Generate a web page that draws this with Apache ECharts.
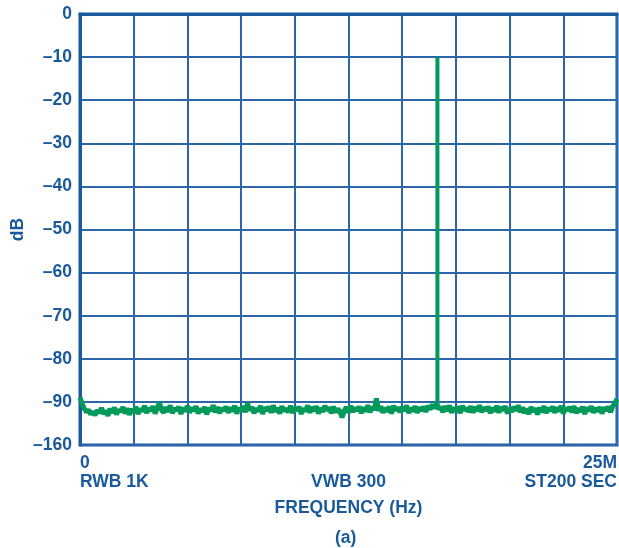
<!DOCTYPE html>
<html>
<head>
<meta charset="utf-8">
<script src="https://cdn.jsdelivr.net/npm/echarts@6/dist/echarts.min.js"></script>
<style>html,body{margin:0;padding:0;background:#fff;}#c{width:619px;height:548px;}</style>
</head>
<body>
<div id="c"></div>
<script>
// Frequency axis in MHz (0 .. 25M), noise sampled every 0.1 MHz
const freqStepMHz = 0.1;
const noiseDb = [
-89.0,-90.4,-91.6,-92.4,-91.8,-92.9,-92.2,-93.1,-91.9,-92.6,
-91.4,-92.8,-92.0,-93.2,-91.6,-92.5,-91.3,-92.9,-91.8,-92.3,
-91.2,-92.7,-91.5,-93.0,-91.7,-92.4,-91.1,-92.8,-91.6,-92.2,
-90.9,-92.6,-91.4,-92.1,-91.0,-92.7,-91.3,-90.2,-91.9,-92.5,
-91.2,-92.3,-90.8,-92.6,-91.5,-92.0,-91.1,-92.8,-91.4,-92.2,
-90.9,-92.5,-91.3,-92.1,-91.0,-92.7,-91.6,-92.3,-91.2,-92.9,
-91.4,-92.1,-90.8,-92.4,-91.2,-92.6,-91.5,-92.0,-91.1,-92.5,
-91.3,-92.2,-90.9,-92.7,-91.4,-92.1,-91.0,-92.4,-90.3,-92.0,
-91.2,-92.6,-91.5,-92.2,-90.9,-92.8,-91.3,-92.0,-91.1,-92.5,
-90.8,-92.3,-91.4,-92.7,-91.0,-92.1,-91.6,-92.4,-90.9,-92.6,
-91.3,-92.0,-91.1,-92.8,-91.5,-92.2,-90.8,-92.5,-91.2,-92.1,
-91.0,-92.7,-91.4,-92.3,-90.9,-92.0,-91.3,-92.6,-91.1,-92.4,
-91.6,-92.2,-93.6,-92.1,-91.2,-92.5,-90.9,-92.3,-91.4,-92.0,
-91.1,-92.6,-91.3,-92.2,-90.8,-92.4,-91.2,-91.9,-89.2,-92.1,
-91.0,-92.5,-91.4,-92.2,-91.1,-92.7,-90.9,-92.0,-91.3,-92.4,
-91.2,-92.1,-90.8,-92.6,-91.4,-92.2,-91.0,-92.5,-91.3,-92.0,
-91.1,-92.3,-90.9,-91.8,-90.6,-91.5,-90.4,-91.7,-91.2,-92.4,
-91.0,-92.1,-90.8,-92.5,-91.3,-92.2,-91.1,-92.6,-90.9,-92.0,
-91.4,-92.3,-91.0,-92.5,-91.2,-92.1,-90.8,-92.4,-91.3,-92.0,
-91.1,-92.6,-91.4,-92.2,-90.9,-92.5,-91.2,-92.0,-91.0,-92.7,
-91.5,-92.3,-91.1,-92.0,-90.8,-92.4,-91.3,-92.6,-91.6,-92.8,
-91.2,-92.3,-91.5,-92.9,-91.3,-92.4,-91.0,-92.6,-91.4,-92.1,
-91.1,-92.5,-91.3,-92.2,-90.9,-92.7,-91.4,-92.0,-91.2,-92.4,
-91.0,-92.6,-91.5,-92.3,-91.1,-92.8,-91.3,-92.1,-91.0,-92.5,
-91.4,-92.2,-91.2,-92.7,-91.3,-92.0,-91.1,-92.4,-91.0,-90.4,
-89.3
];
// Carrier spike
const spikeFreqMHz = [16.64, 16.64, 16.64];
const spikeDb = [-91.0, -40.0, -10.0];

// Axis tick labels
const yTickValues = [0,-10,-20,-30,-40,-50,-60,-70,-80,-90,-100];
const yTickLabels = ['0','–10','–20','–30','–40','–50','–60','–70','–80','–90','–160'];
const xTickLabels = {0:'0\nRWB 1K', 12.5:'\nVWB 300', 25:'25M\nST200 SEC'};

const noiseData = noiseDb.map((v,i)=>[+(i*freqStepMHz).toFixed(2), v]);
const spikeData = spikeFreqMHz.map((f,i)=>[f, spikeDb[i]]);

const blue = '#1a5a9c';
const grid = '#2a67aa';
const green = '#019a5a';
const font = 'Liberation Sans, Arial, sans-serif';
const fs = 17.5;

const chart = echarts.init(document.getElementById('c'), null, {renderer:'canvas'});
chart.setOption({
  animation:false,
  backgroundColor:'#fff',
  grid:{left:80,right:2,top:14,bottom:103,containLabel:false,outerBoundsMode:'none',show:true,borderColor:blue,borderWidth:3,backgroundColor:'transparent'},
  xAxis:{
    type:'value',min:0,max:25,interval:2.5,
    axisLine:{show:true,lineStyle:{color:blue,width:3}},
    axisTick:{show:false},
    splitLine:{show:true,lineStyle:{color:grid,width:2}},
    axisLabel:{
      color:blue,fontFamily:font,fontWeight:'bold',fontSize:fs,lineHeight:19,margin:9,
      alignMinLabel:'left',alignMaxLabel:'right',
      formatter:(v)=> xTickLabels[v] !== undefined ? xTickLabels[v] : ''
    },
    name:'FREQUENCY (Hz)',nameLocation:'middle',nameGap:54,nameMoveOverlap:false,
    nameTextStyle:{color:blue,fontFamily:font,fontWeight:'bold',fontSize:fs}
  },
  yAxis:{
    type:'value',min:-100,max:0,interval:10,
    axisLine:{show:true,lineStyle:{color:blue,width:3}},
    axisTick:{show:false},
    splitLine:{show:true,lineStyle:{color:grid,width:2}},
    axisLabel:{
      color:blue,fontFamily:font,fontWeight:'bold',fontSize:fs,margin:8,
      formatter:(v)=>{const k=yTickValues.indexOf(v);return k>=0?yTickLabels[k]:'';}
    },
    name:'dB',nameLocation:'middle',nameGap:53,nameRotate:90,nameMoveOverlap:false,
    nameTextStyle:{color:blue,fontFamily:font,fontWeight:'bold',fontSize:fs}
  },
  graphic:[{
    type:'text',left:335,top:529,
    style:{text:'(a)',fill:blue,font:'bold '+fs+'px '+font}
  }],
  series:[
    {type:'line',data:noiseData,showSymbol:false,lineStyle:{color:green,width:5},z:3},
    {type:'line',data:spikeData,showSymbol:false,lineStyle:{color:green,width:4},z:3}
  ]
});
</script>
</body>
</html>
